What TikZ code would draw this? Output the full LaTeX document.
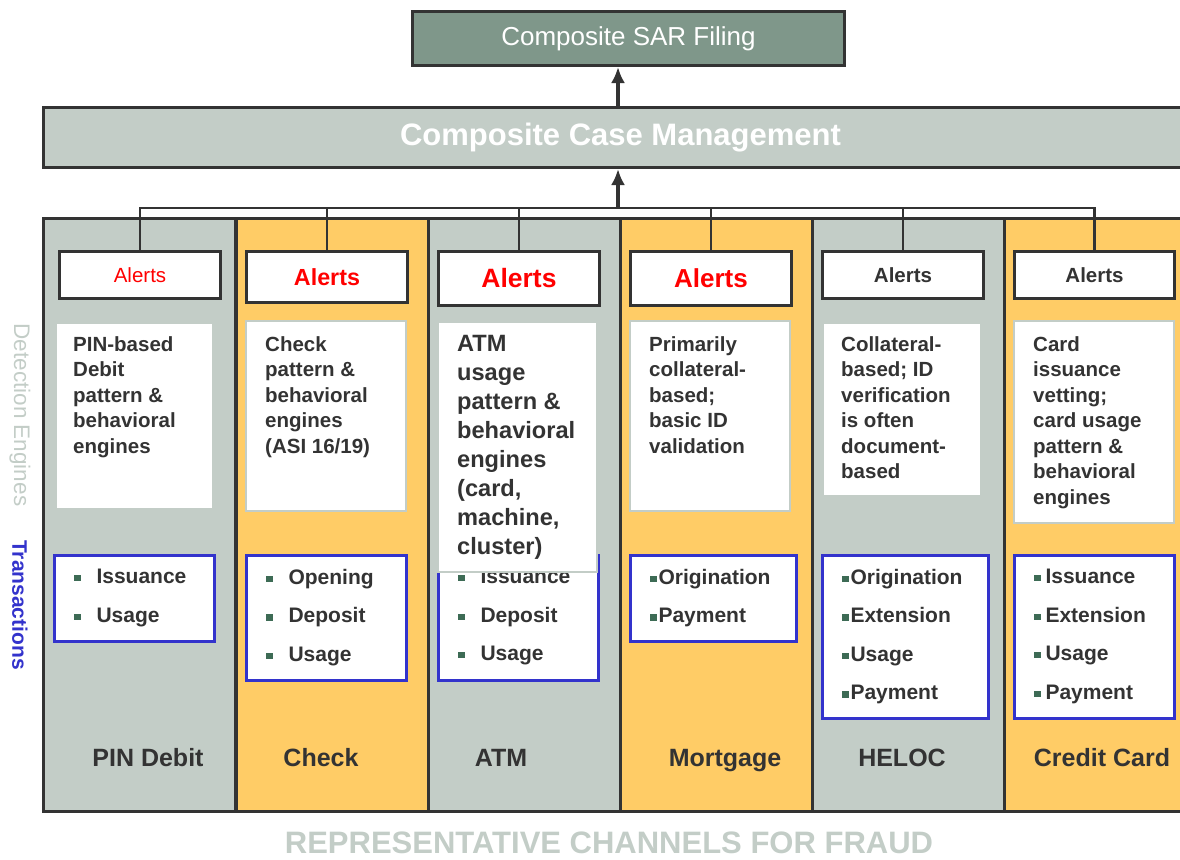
\documentclass[tikz,border=0pt]{standalone}
\usepackage{fontspec}
\setmainfont{Liberation Sans}
\usetikzlibrary{arrows.meta}

\definecolor{sargreen}{RGB}{127,151,138}
\definecolor{sage}{RGB}{195,205,199}
\definecolor{amber}{RGB}{255,204,102}
\definecolor{ink}{RGB}{51,51,51}
\definecolor{txblue}{RGB}{51,51,204}
\definecolor{dotgreen}{RGB}{61,107,85}
\newcommand{\blt}[1]{\textcolor{dotgreen}{\rule[0.11em]{0.3em}{0.3em}}\hspace{#1}}

\tikzset{
frame/.style={draw=ink,line width=3pt},
colbox/.style={frame,line width=2.5pt,anchor=north west,minimum width=192pt,minimum height=593pt,inner sep=0pt},
alertbox/.style={frame,fill=white,anchor=north west,minimum width=161pt,inner sep=0pt},
engbox/.style={draw=sage,line width=2pt,fill=white,anchor=north west,inner sep=0pt},
txbox/.style={draw=txblue,line width=2.5pt,fill=white,anchor=north west,inner sep=0pt},
engtext/.style={anchor=north west,inner sep=0pt,align=left,text=ink,font=\bfseries\fontsize{20.5}{25.5}\selectfont},
txtext/.style={anchor=north west,inner sep=0pt,align=left,text=ink,font=\bfseries\fontsize{21}{38.5}\selectfont},
title/.style={anchor=base,text=ink,font=\bfseries\fontsize{25}{25}\selectfont},
arr/.style={draw=ink,line width=3.5pt,-{Latex[length=16pt,width=14pt]}},
bus/.style={draw=ink,line width=2.2pt}
}

\begin{document}
\begin{tikzpicture}[x=1pt,y=-1pt]
\useasboundingbox (0,0) rectangle (1180,859);

% Filing and case management
\node[frame,fill=sargreen,anchor=north west,minimum width=432pt,minimum height=54pt,
text=white,font=\fontsize{26}{26}\selectfont] (sar) at (411,10) {Composite SAR Filing};
\node[frame,fill=sage,anchor=north west,minimum width=1154pt,minimum height=60pt,
text=white,font=\bfseries\fontsize{31}{31}\selectfont] (ccm) at (42,106) {Composite Case Management};

% Channel columns
\foreach \i/\x/\c in {1/42/sage,2/235/amber,3/427/sage,4/619/amber,5/811/sage,6/1003/amber}
\node[colbox,fill=\c] (col\i) at (\x,217) {};

% Alerts
\node[alertbox,minimum height=47pt,text=red,font=\fontsize{20.5}{20.5}\selectfont] (a1) at (58,250) {Alerts};
\node[alertbox,minimum height=51pt,text=red,font=\bfseries\fontsize{23.3}{23.3}\selectfont] (a2) at (245,250) {Alerts};
\node[alertbox,minimum height=54pt,text=red,font=\bfseries\fontsize{26.5}{26.5}\selectfont] (a3) at (437,250) {Alerts};
\node[alertbox,minimum height=54pt,text=red,font=\bfseries\fontsize{26}{26}\selectfont] (a4) at (629,250) {Alerts};
\node[alertbox,minimum height=47pt,text=ink,font=\bfseries\fontsize{20.5}{20.5}\selectfont] (a5) at (821,250) {Alerts};
\node[alertbox,minimum height=47pt,minimum width=160pt,text=ink,font=\bfseries\fontsize{20.5}{20.5}\selectfont] (a6) at (1013,250) {Alerts};

% Transactions
\node[txbox,minimum width=160pt,minimum height=86pt] (t1) at (53,554) {};
\node[txbox,minimum width=160pt,minimum height=125pt] (t2) at (245,554) {};
\node[txbox,minimum width=160pt,minimum height=125pt] (t3) at (437,554) {};
\node[txbox,minimum width=166pt,minimum height=86pt] (t4) at (629,554) {};
\node[txbox,minimum width=166pt,minimum height=163pt] (t5) at (821,554) {};
\node[txbox,minimum width=160pt,minimum height=163pt] (t6) at (1013,554) {};
\node[txtext] (t1t) at ([xshift=21pt,yshift=-15pt]t1.north west) {\blt{16pt}Issuance\\\blt{16pt}Usage};
\node[txtext] (t2t) at ([xshift=21pt,yshift=-15pt]t2.north west) {\blt{16pt}Opening\\\blt{16pt}Deposit\\\blt{16pt}Usage};
\node[txtext] (t3t) at ([xshift=21pt,yshift=-15pt]t3.north west) {\blt{16pt}Issuance\\\blt{16pt}Deposit\\\blt{16pt}Usage};
\node[txtext] (t4t) at ([xshift=21pt,yshift=-15pt]t4.north west) {\blt{2pt}Origination\\\blt{2pt}Payment};
\node[txtext] (t5t) at ([xshift=21pt,yshift=-15pt]t5.north west) {\blt{2pt}Origination\\\blt{2pt}Extension\\\blt{2pt}Usage\\\blt{2pt}Payment};
\node[txtext] (t6t) at ([xshift=21pt,yshift=-15pt]t6.north west) {\blt{5pt}Issuance\\\blt{5pt}Extension\\\blt{5pt}Usage\\\blt{5pt}Payment};

% Detection engines
\node[engbox,minimum width=157pt,minimum height=186pt] (e1) at (55,322) {};
\node[engbox,minimum width=160pt,minimum height=190pt] (e2) at (245,320) {};
\node[engbox,minimum width=159pt,minimum height=250pt] (e3) at (437,321) {};
\node[engbox,minimum width=160pt,minimum height=190pt] (e4) at (629,320) {};
\node[engbox,minimum width=158pt,minimum height=173pt] (e5) at (822,322) {};
\node[engbox,minimum width=160pt,minimum height=202pt] (e6) at (1013,320) {};
\node[engtext] (e1t) at ([xshift=18pt,yshift=-14pt]e1.north west) {PIN-based\\Debit\\pattern \&\\behavioral\\engines};
\node[engtext] (e2t) at ([xshift=20pt,yshift=-16pt]e2.north west) {Check\\pattern \&\\behavioral\\engines\\(ASI 16/19)};
\node[engtext,font=\bfseries\fontsize{23.6}{29}\selectfont] (e3t) at ([xshift=20pt,yshift=-14pt]e3.north west) {ATM\\usage\\pattern \&\\behavioral\\engines\\(card,\\machine,\\cluster)};
\node[engtext] (e4t) at ([xshift=20pt,yshift=-16pt]e4.north west) {Primarily\\collateral-\\based;\\basic ID\\validation};
\node[engtext] (e5t) at ([xshift=19pt,yshift=-14pt]e5.north west) {Collateral-\\based; ID\\verification\\is often\\document-\\based};
\node[engtext] (e6t) at ([xshift=20pt,yshift=-16pt]e6.north west) {Card\\issuance\\vetting;\\card usage\\pattern \&\\behavioral\\engines};

% Channel names
\node[title] (n1) at (148,766) {PIN Debit};
\node[title] (n2) at (321,766) {Check};
\node[title] (n3) at (501,766) {ATM};
\node[title] (n4) at (725,766) {Mortgage};
\node[title] (n5) at (902,766) {HELOC};
\node[title] (n6) at (1102,766) {Credit Card};

% Side and bottom labels
\node[rotate=-90,text=sage,font=\fontsize{22.5}{22.5}\selectfont] (det) at (20,415) {Detection Engines};
\node[rotate=-90,text=txblue,font=\bfseries\fontsize{21}{21}\selectfont] (trn) at (20,605) {Transactions};
\node[text=sage,font=\bfseries\fontsize{31}{31}\selectfont] (foot) at (609,843) {REPRESENTATIVE CHANNELS FOR FRAUD};

% Alert bus and arrows
\coordinate (hub) at (618,208);
\draw[bus] (a1.north) -- (a1.north |- hub) -- (a6.north |- hub) -- (a6.north);
\foreach \k in {2,...,5}
\draw[bus] (a\k.north) -- (a\k.north |- hub);
\draw[arr] (hub) -- (hub |- ccm.south);
\draw[arr] (hub |- ccm.north) -- (hub |- sar.south);

\end{tikzpicture}
\end{document}
